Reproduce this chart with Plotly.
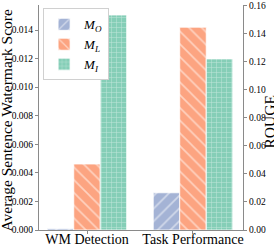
import plotly.graph_objects as go

categories = ["WM Detection", "Task Performance"]
models = ["<i>M<sub>O</sub></i>", "<i>M<sub>L</sub></i>", "<i>M<sub>I</sub></i>"]
wm_scores = [0.0001, 0.00462, 0.01505]      # left axis (WM Detection)
rouge_scores = [0.0265, 0.1444, 0.1218]     # right axis (Task Performance)
left_ticks = [0.000, 0.002, 0.004, 0.006, 0.008, 0.010, 0.012, 0.014]
right_ticks = [0.00, 0.02, 0.04, 0.06, 0.08, 0.10, 0.12, 0.14, 0.16]
left_title = "Average Sentence Watermark Score"
right_title = "ROUGE"

colors = ["#A4B3D5", "#FCA481", "#85CEB7"]
shapes = ["/", "\\", "+"]
sizes = [9, 9, 5]
FONT = "Liberation Serif, Times New Roman, serif"

fig = go.Figure()
bw = 0.25
for i, m in enumerate(models):
    pat = dict(shape=shapes[i], fgcolor="white", size=sizes[i], solidity=0.18, fillmode="overlay")
    fig.add_trace(go.Bar(
        x=[categories[0]], y=[wm_scores[i]], name=m, legendgroup=m,
        width=bw, offset=-0.375 + i * bw,
        marker=dict(color=colors[i], pattern=pat, line=dict(color="white", width=0.8)),
        yaxis="y", showlegend=True,
    ))
    fig.add_trace(go.Bar(
        x=[categories[1]], y=[rouge_scores[i]], name=m, legendgroup=m,
        width=bw, offset=-0.375 + i * bw,
        marker=dict(color=colors[i], pattern=pat, line=dict(color="white", width=0.8)),
        yaxis="y2", showlegend=False,
    ))

axis_common = dict(showline=True, linecolor="#8a8a8a", linewidth=1.2, ticks="outside",
                   tickcolor="#8a8a8a", ticklen=3, showgrid=False, zeroline=False,
                   automargin=False,
                   tickfont=dict(family=FONT, size=9.5, color="black"))

fig.update_layout(
    width=274, height=245,
    margin=dict(l=39, r=31, t=5, b=15),
    paper_bgcolor="white", plot_bgcolor="white",
    barmode="overlay",
    font=dict(family=FONT, color="black"),
    xaxis=dict(type="category", range=[-0.453, 1.472], showline=True, linecolor="#8a8a8a",
               linewidth=1.2, ticks="outside", tickcolor="#8a8a8a", ticklen=3,
               automargin=False, ticklabelstandoff=-7,
               tickfont=dict(family=FONT, size=14, color="black"), showgrid=False),
    yaxis=dict(range=[0, 0.01575], tickvals=left_ticks, tickformat=".3f", **axis_common),
    yaxis2=dict(range=[0, 0.1602], tickvals=right_ticks, tickformat=".2f", overlaying="y",
                side="right", **axis_common),
    legend=dict(x=0.02, y=0.985, xanchor="left", yanchor="top", bgcolor="white",
                bordercolor="#d0d0d0", borderwidth=1, font=dict(family=FONT, size=13),
                tracegroupgap=0, itemwidth=30),
    annotations=[
        dict(text=left_title, xref="paper", yref="paper", x=0, y=0.5, xshift=-33,
             yshift=-3, textangle=-90, showarrow=False, xanchor="center", yanchor="middle",
             font=dict(family=FONT, size=15.5)),
        dict(text=right_title, xref="paper", yref="paper", x=1, y=0.5, xshift=26,
             yshift=-5, textangle=-90, showarrow=False, xanchor="center", yanchor="middle",
             font=dict(family=FONT, size=15.5)),
    ],
)

fig.write_html("out.html", config={"displayModeBar": False},
               post_script="document.body.style.margin='0';document.body.style.overflow='hidden';")
